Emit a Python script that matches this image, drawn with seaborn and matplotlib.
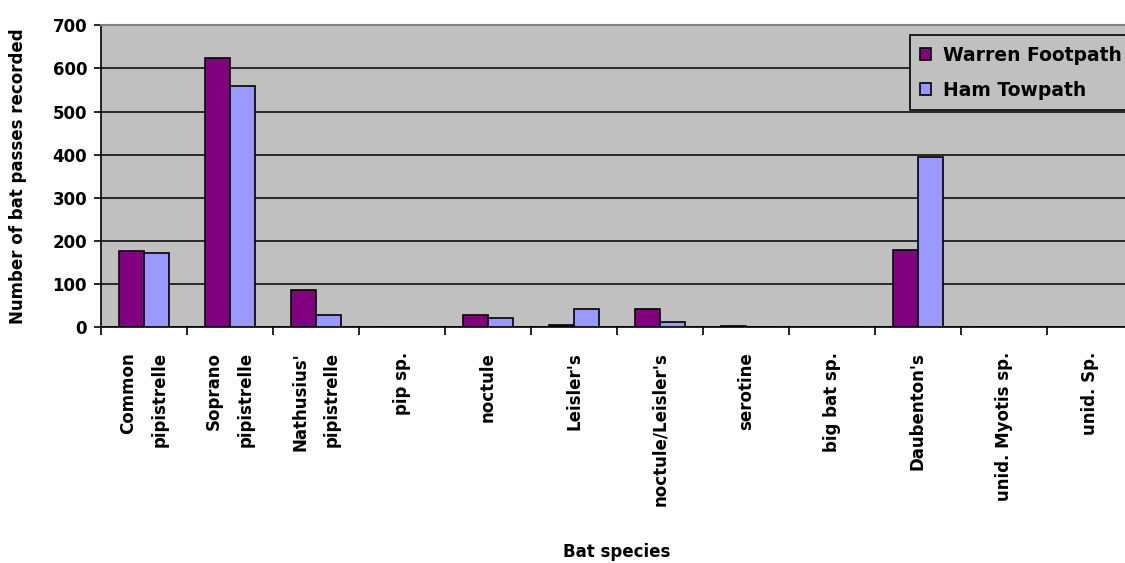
import pandas as pd
import matplotlib.pyplot as plt
import seaborn as sns

# Bat species recorded on the two transects
species = [
    "Common\npipistrelle", "Soprano\npipistrelle", "Nathusius'\npipistrelle",
    "pip sp.", "noctule", "Leisler's", "noctule/Leisler's", "serotine",
    "big bat sp.", "Daubenton's", "unid. Myotis sp.", "unid. Sp.",
]
warren = [176, 625, 87, 0, 28, 4, 41, 3, 0, 180, 0, 0]
ham = [171, 560, 28, 0, 22, 41, 12, 0, 0, 394, 0, 0]
sites = ["Warren Footpath", "Ham Towpath"]

data = pd.DataFrame(
    {
        "Species": species * 2,
        "Passes": warren + ham,
        "Site": [sites[0]] * len(species) + [sites[1]] * len(species),
    }
)

sns.set_style("white")
plt.rcParams["font.family"] = ["DejaVu Sans"]
plt.rcParams["font.weight"] = "bold"
plt.rcParams["text.color"] = "black"
plt.rcParams["axes.labelcolor"] = "black"
plt.rcParams["xtick.color"] = "black"
plt.rcParams["ytick.color"] = "black"

fig = plt.figure(figsize=(11.25, 5.63), dpi=100)
ax = fig.add_axes([0.0898, 0.419, 0.9173, 0.536])
ax.set_facecolor("#C0C0C0")

sns.barplot(
    data=data, x="Species", y="Passes", hue="Site", order=species,
    palette=["#800080", "#9999FF"], saturation=1, width=0.58,
    edgecolor="black", linewidth=1.2, ax=ax, zorder=3,
)

ax.set_ylim(0, 700)
ax.set_xlim(-0.5, len(species) - 0.5)
ax.set_yticks(range(0, 701, 100))
ax.yaxis.grid(True, color="black", linewidth=1.1, zorder=0)
ax.set_axisbelow(True)

# tick marks sit between categories, labels at the centres
ax.set_xticks([i - 0.5 for i in range(len(species) + 1)], minor=True)
ax.tick_params(axis="x", which="major", length=0, pad=18, labelsize=12)
ax.tick_params(axis="x", which="minor", length=6, width=1.2, direction="out", bottom=True)
ax.tick_params(axis="y", length=5, width=1.2, direction="out", left=True, labelsize=12, pad=5)
for lab in ax.get_xticklabels():
    lab.set_rotation(90)
    lab.set_va("top")
    lab.set_ha("center")
    lab.set_multialignment("right")
    lab.set_linespacing(2.0)
    lab.set_fontweight("bold")
for lab in ax.get_yticklabels():
    lab.set_fontweight("bold")

for side in ["left", "bottom"]:
    ax.spines[side].set_color("black")
    ax.spines[side].set_linewidth(1.2)
ax.spines["top"].set_color("#808080")
ax.spines["top"].set_linewidth(1.5)
ax.spines["right"].set_visible(False)

ax.set_xlabel("Bat species", fontsize=12, fontweight="bold")
ax.xaxis.set_label_coords(0.5, -0.715)
ax.set_ylabel("Number of bat passes recorded", fontsize=12, fontweight="bold")
ax.yaxis.set_label_coords(-0.072, 0.5)

leg = ax.legend(
    loc="upper left", bbox_to_anchor=(0.784, 0.967), borderaxespad=0,
    frameon=True, fancybox=False, edgecolor="black", facecolor="#C0C0C0",
    framealpha=1, fontsize=13.5, handlelength=0.55, handleheight=0.55,
    handletextpad=0.65, borderpad=0.55, labelspacing=0.85,
)
leg.get_frame().set_linewidth(1.2)
for t in leg.get_texts():
    t.set_fontweight("bold")

fig.savefig("out.png", dpi=100)
